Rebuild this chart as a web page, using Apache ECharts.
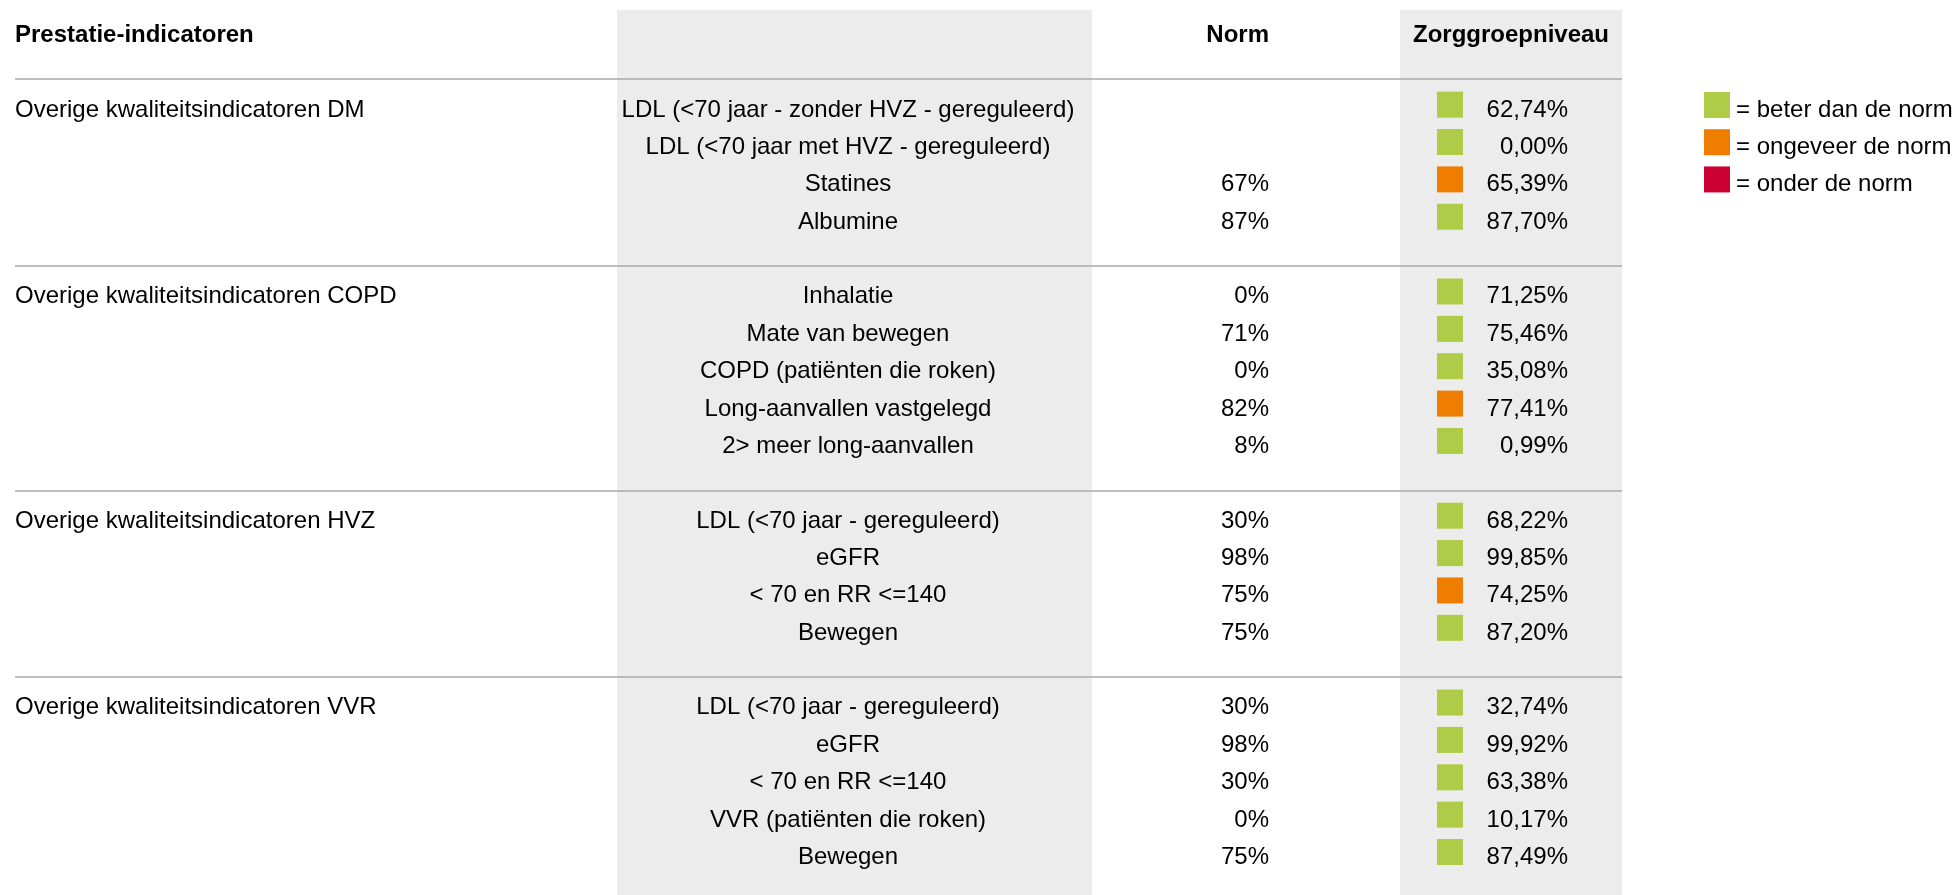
<!DOCTYPE html>
<html>
<head>
  <meta charset="utf-8">
  <title>Prestatie-indicatoren</title>
  <script src="https://cdn.jsdelivr.net/npm/echarts@6/dist/echarts.min.js"></script>
  <style>
    html, body { margin: 0; padding: 0; background: #fff; }
  </style>
</head>
<body>
<div id="main" style="width: 1957px;height:895px;"></div>
<script type="text/javascript">

  // kolomkoppen
  var headers = ['Prestatie-indicatoren', 'Norm', 'Zorggroepniveau'];

  // groepen (secties)
  var sections = [
    'Overige kwaliteitsindicatoren DM',
    'Overige kwaliteitsindicatoren COPD',
    'Overige kwaliteitsindicatoren HVZ',
    'Overige kwaliteitsindicatoren VVR'
  ];

  // per indicator: sectie-index
  var sectionOf = [0, 0, 0, 0, 1, 1, 1, 1, 1, 2, 2, 2, 2, 3, 3, 3, 3, 3];

  var indicators = [
    'LDL (<70 jaar - zonder HVZ - gereguleerd)',
    'LDL (<70 jaar met HVZ - gereguleerd)',
    'Statines',
    'Albumine',
    'Inhalatie',
    'Mate van bewegen',
    'COPD (patiënten die roken)',
    'Long-aanvallen vastgelegd',
    '2> meer long-aanvallen',
    'LDL (<70 jaar - gereguleerd)',
    'eGFR',
    '< 70 en RR <=140',
    'Bewegen',
    'LDL (<70 jaar - gereguleerd)',
    'eGFR',
    '< 70 en RR <=140',
    'VVR (patiënten die roken)',
    'Bewegen'
  ];

  var norms = [null, null, 67, 87, 0, 71, 0, 82, 8, 30, 98, 75, 75, 30, 98, 30, 0, 75];

  var scores = [62.74, 0.00, 65.39, 87.70, 71.25, 75.46, 35.08, 77.41, 0.99,
                68.22, 99.85, 74.25, 87.20, 32.74, 99.92, 63.38, 10.17, 87.49];

  // 0 = beter, 1 = ongeveer, 2 = onder
  var scoreStatus = [0, 0, 1, 0, 0, 0, 0, 1, 0, 0, 0, 1, 0, 0, 0, 0, 0, 0];

  var statusNames = ['= beter dan de norm', '= ongeveer de norm', '= onder de norm'];
  var statusColors = ['#afcb48', '#ef7d00', '#cc0033'];

  // layout van de tabel (x in px, y in rij-eenheden)
  var X_GROUP = 15, X_IND = 848, X_NORM = 1269, X_SQ = 1450, X_SCORE = 1568, X_ZORG = 1511;
  var LINE_X0 = 15, LINE_X1 = 1622;
  var GRAY1 = [617, 1092], GRAY2 = [1400, 1622];
  var Y_MIN = -2.8, Y_MAX = 21.15;
  var FONT = 'Liberation Sans, Arial, sans-serif';

  // rij van elke indicator: een lege rij tussen de secties
  function rowOf(i) { return i + sectionOf[i]; }

  function firstRow(s) {
    for (var i = 0; i < sectionOf.length; i++) {
      if (sectionOf[i] === s) return rowOf(i);
    }
  }

  function pct(v, dec) {
    return v.toFixed(dec).replace('.', ',') + '%';
  }

  function textItem(x, y, text, align, bold) {
    return {
      value: [x, y],
      label: {
        align: align,
        formatter: text,
        fontWeight: bold ? 'bold' : 'normal'
      }
    };
  }

  function textSeries(name, data) {
    return {
      name: name,
      type: 'scatter',
      symbolSize: 0,
      silent: true,
      z: 5,
      itemStyle: { opacity: 1 },
      label: {
        show: true,
        position: 'inside',
        verticalAlign: 'middle',
        offset: [0, 5.3],
        fontSize: 24,
        fontFamily: FONT,
        color: '#000',
        textBorderWidth: 0
      },
      data: data
    };
  }

  var headerData = [
    textItem(X_GROUP, -2, headers[0], 'left', true),
    textItem(X_NORM, -2, headers[1], 'right', true),
    textItem(X_ZORG, -2, headers[2], 'center', true)
  ];

  var groupData = [];
  var lineData = [];
  for (var s = 0; s < sections.length; s++) {
    var r0 = firstRow(s);
    groupData.push(textItem(X_GROUP, r0, sections[s], 'left', false));
    lineData.push([{ coord: [LINE_X0, r0 - 0.68] }, { coord: [LINE_X1, r0 - 0.68] }]);
  }

  var indData = [], normData = [], scoreData = [];
  var sqData = [[], [], []];
  for (var i = 0; i < indicators.length; i++) {
    var r = rowOf(i);
    indData.push(textItem(X_IND, r, indicators[i], 'center', false));
    if (norms[i] !== null) {
      normData.push(textItem(X_NORM, r, norms[i] + '%', 'right', false));
    }
    scoreData.push(textItem(X_SCORE, r, pct(scores[i], 2), 'right', false));
    sqData[scoreStatus[i]].push([X_SQ, r]);
  }

  var myChart = echarts.init(document.getElementById('main'));

  var series = [
    {
      name: 'achtergrond',
      type: 'scatter',
      data: [],
      silent: true,
      z: 0,
      markArea: {
        silent: true,
        itemStyle: { color: '#ececec' },
        data: [
          [{ coord: [GRAY1[0], -2.53] }, { coord: [GRAY1[1], Y_MAX] }],
          [{ coord: [GRAY2[0], -2.53] }, { coord: [GRAY2[1], Y_MAX] }]
        ]
      },
      markLine: {
        silent: true,
        symbol: 'none',
        label: { show: false },
        lineStyle: { color: '#a8a8a8', width: 1.5, type: 'solid' },
        data: lineData
      }
    },
    textSeries('koppen', headerData),
    textSeries('secties', groupData),
    textSeries('indicatoren', indData),
    textSeries('norm', normData),
    textSeries('score', scoreData)
  ];

  for (var k = 0; k < statusNames.length; k++) {
    series.push({
      name: statusNames[k],
      type: 'scatter',
      symbol: 'rect',
      symbolSize: 26,
      silent: true,
      z: 4,
      itemStyle: { color: statusColors[k], opacity: 1 },
      data: sqData[k]
    });
  }

  var option = {
    animation: false,
    backgroundColor: '#fff',
    legend: {
      data: statusNames,
      orient: 'vertical',
      left: 1704,
      top: 92,
      padding: 0,
      icon: 'rect',
      itemWidth: 26,
      itemHeight: 26,
      itemGap: 7.22,
      selectedMode: false,
      // tekst zakt iets, basislijn op de onderkant van het blokje
      formatter: function (name) { return '{t|' + name + '}'; },
      textStyle: {
        fontSize: 24,
        fontFamily: FONT,
        color: '#000',
        rich: {
          t: { fontSize: 24, fontFamily: FONT, color: '#000', padding: [10, 0, 0, 1] }
        }
      }
    },
    grid: { left: 0, right: 0, top: 0, bottom: 0 },
    xAxis: { type: 'value', min: 0, max: 1957, show: false },
    yAxis: { type: 'value', min: Y_MIN, max: Y_MAX, inverse: true, show: false },
    series: series
  };

  myChart.setOption(option);

</script>
</body>
</html>
